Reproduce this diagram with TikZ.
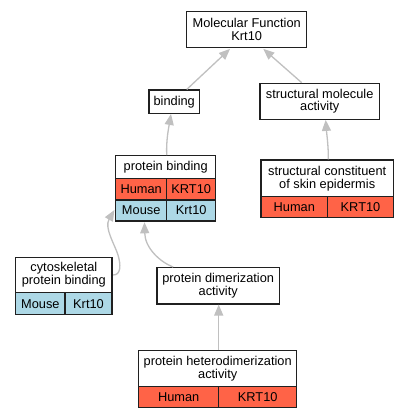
\documentclass[tikz,border=0pt]{standalone}
\usepackage{fontspec}
\setmainfont{Liberation Sans}
\usetikzlibrary{arrows.meta,calc}
\definecolor{humanc}{HTML}{FF6347}
\definecolor{mousec}{HTML}{ADD8E6}
\definecolor{edgec}{HTML}{C0C0C0}
\definecolor{bordc}{HTML}{202020}
\begin{document}
\begin{tikzpicture}[x=1pt,y=-1pt,
  every node/.style={font=\fontsize{12.8}{12.7}\selectfont, inner sep=0pt, align=center},
  gobox/.style={draw=bordc, line width=1.2pt, fill=white},
  humancell/.style={gobox, fill=humanc},
  mousecell/.style={gobox, fill=mousec},
  link/.style={draw=edgec, line width=1.3pt, -{Triangle[length=11pt,width=9pt]}}]
\useasboundingbox (0,0) rectangle (408,419);
\fill[white] (0,0) rectangle (408,419);

% plain boxes
\node[gobox, minimum width=120pt, minimum height=36pt] (mf) at (246.7,29.7) {Molecular Function\\Krt10};
\node[gobox, minimum width=50.3pt, minimum height=23.3pt] (binding) at (174.2,101.7) {binding};
\node[gobox, minimum width=119.3pt, minimum height=36pt] (sma) at (319.7,101.3) {structural molecule\\activity};
\node[gobox, minimum width=122.3pt, minimum height=36.3pt] (pda) at (218.2,285.8) {protein dimerization\\activity};

% protein binding table
\node[gobox, minimum width=100pt, minimum height=22.6pt] (pbh) at (165.7,167) {protein binding};
\node[humancell, minimum width=51pt, minimum height=21.7pt] (pbhs) at (141.2,189.15) {Human};
\node[humancell, minimum width=49pt, minimum height=21.7pt] (pbhg) at (191.2,189.15) {KRT10};
\node[mousecell, minimum width=51pt, minimum height=21pt] (pbms) at (141.2,210.5) {Mouse};
\node[mousecell, minimum width=49pt, minimum height=21pt] (pbmg) at (191.2,210.5) {Krt10};

% structural constituent table
\node[gobox, minimum width=132.3pt, minimum height=36.7pt] (scseh) at (327.15,178.35) {structural constituent\\of skin epidermis};
\node[humancell, minimum width=66.7pt, minimum height=20.6pt] (scsehs) at (294.35,207) {Human};
\node[humancell, minimum width=65.6pt, minimum height=20.6pt] (scsehg) at (360.5,207) {KRT10};

% cytoskeletal table
\node[gobox, minimum width=96.3pt, minimum height=35.4pt] (cytoh) at (63.85,275) {cytoskeletal\\protein binding};
\node[mousecell, minimum width=49.3pt, minimum height=22pt] (cytoms) at (40.35,303.7) {Mouse};
\node[mousecell, minimum width=47pt, minimum height=22pt] (cytomg) at (88.5,303.7) {Krt10};

% heterodimerization table
\node[gobox, minimum width=158pt, minimum height=36pt] (phdah) at (217.7,368.7) {protein heterodimerization\\activity};
\node[humancell, minimum width=80pt, minimum height=21pt] (phdahs) at (178.7,397.2) {Human};
\node[humancell, minimum width=78pt, minimum height=21pt] (phdahg) at (257.7,397.2) {KRT10};

% connectors
\draw[link] ($(binding.north)+(12.5,0)$) -- ($(mf.south)+(-16.7,0.6)$);
\draw[link] ($(sma.north)+(-18,0)$) -- ($(mf.south)+(16.6,0.6)$);
\draw[link] ($(pbh.north)+(1,0)$) .. controls (166,140) and (169,126) .. ($(binding.south)+(-3.2,0)$);
\draw[link] ($(scseh.north)+(1.2,0)$) .. controls (328.5,146) and (326.5,132) .. ($(sma.south)+(6,0)$);
\coordinate (cytobend) at (118,255);
\draw[link] ($(cytoh.east)+(0.6,0)$) .. controls (121,275) and (121,265) .. (cytobend)
   .. controls (115,245) and (104,228) .. ($(pbms.west)+(-0.7,-0.5)$);
\draw[link] ($(pda.north)+(-45,0)$) .. controls (160,262) and (145,248) .. ($(pbms.south)+(3.3,0.7)$);
\draw[link] ($(phdah.north)+(1,0)$) -- ($(pda.south)+(0.5,0)$);
\end{tikzpicture}
\end{document}
